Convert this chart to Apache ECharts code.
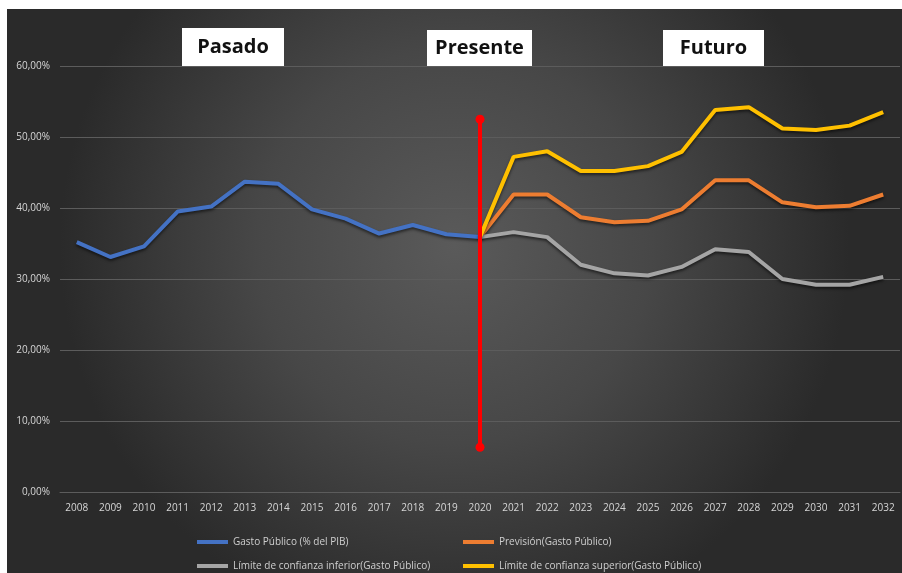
<!DOCTYPE html>
<html>
<head>
<meta charset="utf-8">
<script src="https://cdn.jsdelivr.net/npm/echarts@6/dist/echarts.min.js"></script>
<style>html,body{margin:0;padding:0;background:#fff;}#c{width:902px;height:573px;}</style>
</head>
<body>
<div id="c"></div>
<script>
var years = ['2008','2009','2010','2011','2012','2013','2014','2015','2016','2017','2018','2019','2020','2021','2022','2023','2024','2025','2026','2027','2028','2029','2030','2031','2032'];
var gastoPublico = [35.2,33.1,34.6,39.5,40.2,43.7,43.4,39.8,38.5,36.4,37.6,36.3,35.9,null,null,null,null,null,null,null,null,null,null,null,null];
var prevision = [null,null,null,null,null,null,null,null,null,null,null,null,35.9,41.9,41.9,38.7,38.0,38.2,39.8,43.9,43.9,40.8,40.1,40.3,41.9];
var limiteInferior = [null,null,null,null,null,null,null,null,null,null,null,null,35.9,36.6,35.9,32.0,30.8,30.5,31.7,34.2,33.8,30.0,29.2,29.2,30.3];
var limiteSuperior = [null,null,null,null,null,null,null,null,null,null,null,null,35.9,47.2,48.0,45.2,45.2,45.9,47.9,53.8,54.2,51.2,51.0,51.6,53.5];
var presenteMarker = [['2020', 6.3], ['2020', 52.5]];
var yTicks = [0,10,20,30,40,50,60];
var periodLabels = ['Pasado','Presente','Futuro'];
var seriesNames = ['Gasto Público (% del PIB)','Previsión(Gasto Público)','Límite de confianza inferior(Gasto Público)','Límite de confianza superior(Gasto Público)'];

var chart = echarts.init(document.getElementById('c'), null, {renderer:'canvas'});
var shadow = {shadowBlur:3, shadowColor:'rgba(0,0,0,0.55)', shadowOffsetY:2};
function lineSeries(name, data, color){
  return {
    name:name, type:'line', data:data, symbol:'none', smooth:false, connectNulls:false,
    itemStyle:{color:color},
    lineStyle:Object.assign({color:color, width:4}, shadow),
    z:3
  };
}
function box(x, y, w, h, text){
  return {
    type:'group', left:x, top:y, z:10,
    children:[
      {type:'rect', shape:{x:0,y:0,width:w,height:h}, style:{fill:'#ffffff'}},
      {type:'text', x:w/2, y:h/2, style:{text:text, fill:'#111', font:'bold 20px "Open Sans", sans-serif', textAlign:'center', textVerticalAlign:'middle'}}
    ]
  };
}
var legendText = {color:'#cfcfcf', fontSize:10, fontFamily:'"Open Sans", sans-serif'};
function legendItem(name, left, top){
  return {data:[name], left:left, top:top, itemGap:0, itemWidth:31, itemHeight:4, icon:'rect', textStyle:legendText, selectedMode:false, padding:0};
}
var option = {
  backgroundColor:'#ffffff',
  animation:false,
  graphic:[
    {type:'rect', left:7, top:9, z:-10, silent:true, shape:{width:895, height:564},
      style:{fill:new echarts.graphic.RadialGradient(0.5,0.42,0.7,[
        {offset:0,color:'#5a5a5a'},{offset:0.5,color:'#474747'},{offset:1,color:'#2a2a2a'}])}},
    box(182, 28, 102, 38, periodLabels[0]),
    box(427, 30, 105, 36, periodLabels[1]),
    box(663, 30, 101, 36, periodLabels[2])
  ],
  grid:{left:60, right:2, top:66, bottom:81, containLabel:false},
  legend:[
    legendItem(seriesNames[0], 197, 537),
    legendItem(seriesNames[1], 463, 537),
    legendItem(seriesNames[2], 197, 561),
    legendItem(seriesNames[3], 463, 561)
  ],
  xAxis:{
    type:'category', data:years, boundaryGap:true,
    axisLine:{show:true, lineStyle:{color:'#5c5c5c', width:1}},
    axisTick:{show:false},
    axisLabel:{color:'#d6d6d6', fontSize:10, fontFamily:'"Open Sans", sans-serif', margin:11, interval:0},
    splitLine:{show:false}
  },
  yAxis:{
    type:'value', min:yTicks[0], max:yTicks[yTicks.length-1], interval:10,
    axisLine:{show:false}, axisTick:{show:false},
    axisLabel:{color:'#d6d6d6', fontSize:10, fontFamily:'"Open Sans", sans-serif', margin:10,
      formatter:function(v){return v.toFixed(2).replace('.',',')+'%';}},
    splitLine:{lineStyle:{color:'#5c5c5c', width:1}}
  },
  series:[
    lineSeries(seriesNames[0], gastoPublico, '#4472C4'),
    lineSeries(seriesNames[1], prevision, '#ED7D31'),
    lineSeries(seriesNames[2], limiteInferior, '#A5A5A5'),
    lineSeries(seriesNames[3], limiteSuperior, '#FFC000'),
    {name:'Presente', type:'line', data:presenteMarker, symbol:'circle', symbolSize:9, z:5,
      itemStyle:{color:'#ff0000'}, lineStyle:{color:'#ff0000', width:4}}
  ]
};
chart.setOption(option);
</script>
</body>
</html>
